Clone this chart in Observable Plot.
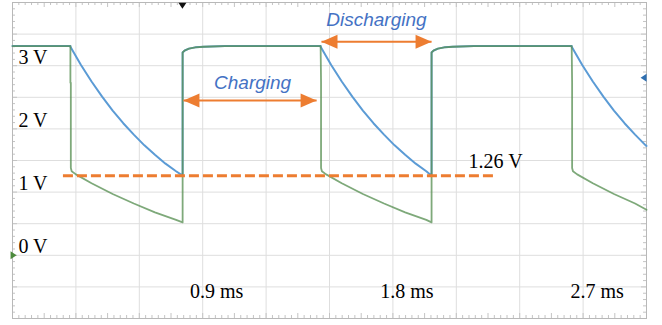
<!DOCTYPE html>
<html><head><meta charset="utf-8">
<script src="https://cdn.jsdelivr.net/npm/d3@7"></script>
<script src="https://cdn.jsdelivr.net/npm/@observablehq/plot@0.6"></script>
<style>body{margin:0;background:#fff}#chart svg{display:block}</style>
</head><body><div id="chart"></div>
<script>
// ---- data (time in ms, voltage in V) ----
const timeTicks = [0.9, 1.8, 2.7];
const timeLabels = ["0.9 ms", "1.8 ms", "2.7 ms"];
const voltTicks = [0, 1, 2, 3];
const voltLabels = ["0 V", "1 V", "2 V", "3 V"];

// blue trace
const blueT = [0, 0.274,
  0.274, 0.324, 0.374, 0.424, 0.474, 0.524, 0.574, 0.624, 0.674, 0.724, 0.774, 0.805,
  0.805, 0.815, 0.835, 0.865, 0.905, 1.005, 1.458,
  1.458, 1.508, 1.558, 1.608, 1.658, 1.708, 1.758, 1.808, 1.858, 1.908, 1.958, 1.983,
  1.983, 1.993, 2.013, 2.043, 2.083, 2.183, 2.646,
  2.646, 2.696, 2.746, 2.796, 2.846, 2.896, 2.946, 2.996, 3.0];
const blueV = [3.31, 3.31,
  3.30, 3.01, 2.75, 2.51, 2.29, 2.09, 1.91, 1.74, 1.59, 1.45, 1.33, 1.26,
  3.21, 3.24, 3.27, 3.29, 3.30, 3.31, 3.31,
  3.30, 3.01, 2.75, 2.51, 2.29, 2.09, 1.91, 1.74, 1.59, 1.45, 1.33, 1.26,
  3.21, 3.24, 3.27, 3.29, 3.30, 3.31, 3.31,
  3.30, 3.01, 2.75, 2.51, 2.29, 2.09, 1.91, 1.74, 1.73];

// green trace
const greenT = [0, 0.274, 0.274, 0.276, 0.276, 0.280, 0.300, 0.374, 0.474, 0.574, 0.674, 0.774, 0.805,
  0.805, 0.815, 0.835, 0.865, 0.905, 1.005, 1.458,
  1.458, 1.460, 1.460, 1.464, 1.484, 1.558, 1.658, 1.758, 1.858, 1.958, 1.983,
  1.983, 1.993, 2.013, 2.043, 2.083, 2.183, 2.646,
  2.646, 2.648, 2.648, 2.652, 2.672, 2.746, 2.846, 2.946, 3.0];
const greenV = [3.31, 3.31, 2.73, 2.73, 1.38, 1.33, 1.28, 1.14, 0.97, 0.82, 0.68, 0.56, 0.52,
  3.21, 3.24, 3.27, 3.29, 3.30, 3.31, 3.31,
  3.31, 2.73, 1.38, 1.33, 1.28, 1.14, 0.97, 0.82, 0.68, 0.56, 0.52,
  3.21, 3.24, 3.27, 3.29, 3.30, 3.31, 3.31,
  3.31, 2.73, 1.38, 1.33, 1.28, 1.14, 0.97, 0.82, 0.72];

// annotations
const thresholdV = 1.26;
const thresholdSpan = [0.241, 2.276];
const thresholdLabel = "1.26 V";
const chargingSpan = [0.809, 1.439];
const chargingV = 2.45;
const dischargingSpan = [1.462, 1.983];
const dischargingV = 3.38;
const annoText = ["Charging", "Discharging"];
const annoT = [1.136, 1.722];
const annoV = [2.72, 3.72];

// ---- build tables ----
const blue = blueT.map((t, i) => ({t, v: blueV[i]}));
const green = greenT.map((t, i) => ({t, v: greenV[i]}));
const arrows = [
  {t1: chargingSpan[0], t2: chargingSpan[1], v: chargingV},
  {t1: dischargingSpan[0], t2: dischargingSpan[1], v: dischargingV}
];
const annos = annoText.map((s, i) => ({s, t: annoT[i], v: annoV[i]}));

const W = 662, H = 325, mL = 12, mR = 16, mT = 2, mB = 7;
const pxPerV = (H - mT - mB) / 5;
const pxPerMs = (W - mL - mR) / 3;

const headRight = {draw(c) { c.moveTo(0, 0); c.lineTo(-16, -7); c.lineTo(-16, 7); c.closePath(); }};
const headLeft = {draw(c) { c.moveTo(0, 0); c.lineTo(16, -7); c.lineTo(16, 7); c.closePath(); }};
const markDown = {draw(c) { c.moveTo(-4, -3); c.lineTo(4, -3); c.lineTo(0, 3); c.closePath(); }};
const markLeft = {draw(c) { c.moveTo(-3, 0); c.lineTo(3, -4); c.lineTo(3, 4); c.closePath(); }};
const markRight = {draw(c) { c.moveTo(3, 0); c.lineTo(-3, -4); c.lineTo(-3, 4); c.closePath(); }};

const xMinor = d3.range(0, 301, 3).map(k => k / 100);
const yMinor = d3.range(-10, 41, 1).map(k => k / 10);
const tlen = (i) => (i % 5 === 0 ? 5 : 3);

const plot = Plot.plot({
  width: W, height: H,
  marginLeft: mL, marginRight: mR, marginTop: mT, marginBottom: mB,
  x: {domain: [0, 3], axis: null},
  y: {domain: [-1, 4], axis: null},
  style: {background: "white", overflow: "visible"},
  marks: [
    Plot.ruleX(d3.range(0, 11).map(k => k * 0.3), {stroke: "#dedede", strokeWidth: 1}),
    Plot.ruleY(d3.range(0, 11).map(k => -1 + k * 0.5), {stroke: "#dedede", strokeWidth: 1}),
    Plot.ruleX(xMinor, {x: d => d, y1: -1, y2: (d, i) => -1 + tlen(i) / pxPerV, stroke: "#c4c4c4"}),
    Plot.ruleX(xMinor, {x: d => d, y1: (d, i) => 4 - tlen(i) / pxPerV, y2: 4, stroke: "#c4c4c4"}),
    Plot.ruleY(yMinor, {y: d => d, x1: 0, x2: (d, i) => tlen(i) / pxPerMs, stroke: "#c4c4c4"}),
    Plot.ruleY(yMinor, {y: d => d, x1: (d, i) => 3 - tlen(i) / pxPerMs, x2: 3, stroke: "#c4c4c4"}),
    Plot.frame({stroke: "#b8b8b8"}),
    Plot.line(blue, {x: "t", y: "v", stroke: "#5b9bd5", strokeWidth: 2}),
    Plot.line(green, {x: "t", y: "v", stroke: "#5a9155", strokeWidth: 1.8, strokeOpacity: 0.78}),
    Plot.ruleY([thresholdV], {y: d => d, x1: thresholdSpan[0], x2: thresholdSpan[1], stroke: "#ed7d31", strokeWidth: 3, strokeDasharray: "10,4"}),
    Plot.text([thresholdLabel], {x: 2.158, y: 1.49, text: d => d, textAnchor: "start", fontSize: 20, fontFamily: "Liberation Serif", fill: "#000"}),
    Plot.link(arrows, {x1: "t1", x2: "t2", y1: "v", y2: "v", stroke: "#ed7d31", strokeWidth: 2}),
    Plot.dot(arrows, {x: "t1", y: "v", symbol: headLeft, fill: "#ed7d31", r: 5}),
    Plot.dot(arrows, {x: "t2", y: "v", symbol: headRight, fill: "#ed7d31", r: 5}),
    Plot.text(annos, {x: "t", y: "v", text: "s", fontSize: 19, fontStyle: "italic", fontFamily: "Liberation Sans", fill: "#4472c4"}),
    Plot.text(timeTicks, {x: d => d, y: -0.567, text: (d, i) => timeLabels[i], dx: 14, fontSize: 20, fontFamily: "Liberation Serif", fill: "#000"}),
    Plot.text(voltTicks, {x: 0.028, y: d => d, text: (d, i) => voltLabels[i], textAnchor: "start", dy: -8.5, fontSize: 20, fontFamily: "Liberation Serif", fill: "#000"}),
    Plot.dot([0.804], {x: d => d, y: 3.95, symbol: markDown, fill: "#111", r: 4}),
    Plot.dot([2.81], {x: 2.986, y: d => d, symbol: markLeft, fill: "#2f6fb0", r: 4}),
    Plot.dot([0], {x: 0.005, y: d => d, symbol: markRight, fill: "#4c8a3c", r: 4})
  ]
});
document.getElementById("chart").appendChild(plot);
</script>
</body></html>
